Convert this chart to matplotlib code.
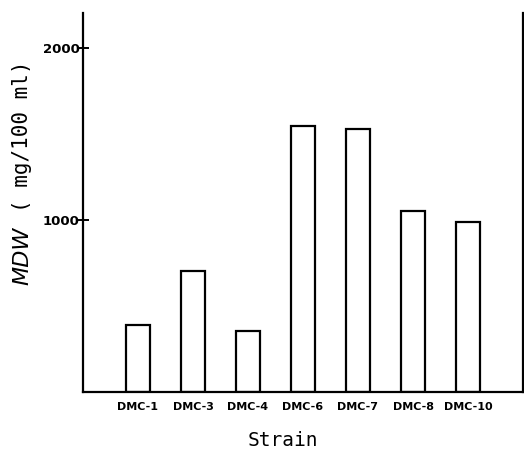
import matplotlib
matplotlib.use("Agg")
import matplotlib.pyplot as plt

strains = ["DMC-1", "DMC-3", "DMC-4", "DMC-6", "DMC-7", "DMC-8", "DMC-10"]
mdw = [390, 703, 355, 1547, 1530, 1052, 988]
yticks = [1000, 2000]

fig = plt.figure(figsize=(5.24, 4.55), dpi=100)
ax = fig.add_axes([83 / 524, 63 / 455, 440 / 524, 379 / 455])

x = list(range(len(strains)))
ax.bar(x, mdw, width=0.42, facecolor="white", edgecolor="black", linewidth=1.6)

ax.set_xlim(-1, 7)
ax.set_ylim(0, 2203)

ax.spines["top"].set_visible(False)
for side in ("left", "bottom", "right"):
    ax.spines[side].set_linewidth(1.6)

ax.set_xticks(x)
ax.set_xticklabels(strains, fontsize=8, fontweight="bold")
ax.tick_params(axis="x", length=0, pad=7)

ax.set_yticks(yticks)
ax.set_yticklabels([str(v) for v in yticks], fontsize=9.5, fontweight="bold")
ax.tick_params(axis="y", direction="inout", length=9, width=1.4, pad=-2)

fig.text(283 / 524, 1 - 441 / 455, "Strain", ha="center", va="center",
         fontsize=14, family="DejaVu Sans Mono")
fig.text(22 / 524, 1 - 256 / 455, "MDW", rotation=90, ha="center", va="center",
         fontsize=16, style="italic")
fig.text(22 / 524, 1 - 136 / 455, "( mg/100 ml)", rotation=90, ha="center", va="center",
         fontsize=15, family="DejaVu Sans Mono")

fig.savefig("out.png", dpi=100)
